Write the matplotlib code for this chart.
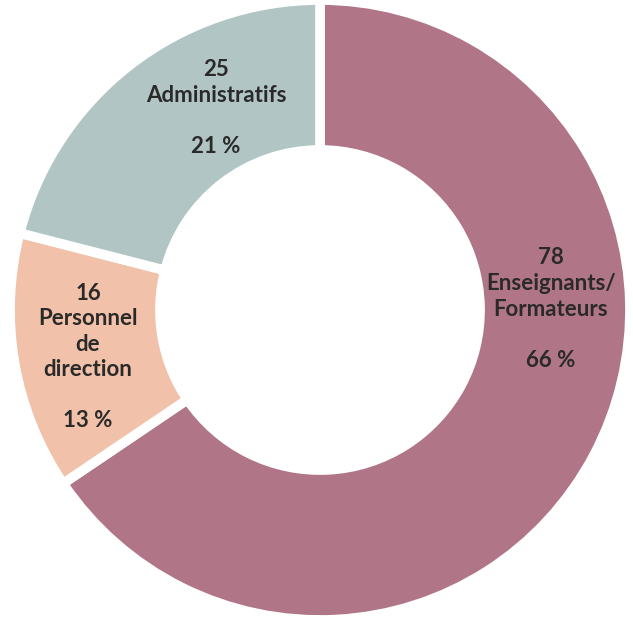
import matplotlib.pyplot as plt

# effectifs par catégorie (sens horaire depuis midi)
categories = ["Enseignants/\nFormateurs", "Personnel\nde\ndirection", "Administratifs"]
effectifs = [78, 16, 25]
pourcentages = ["66 %", "13 %", "21 %"]
couleurs = ["#b07586", "#f1c1a9", "#b1c5c4"]

# positions des étiquettes (en pixels, origine en bas à gauche)
label_pos = [(551, 619 - 309), (88, 619 - 357), (216, 619 - 108)]

fig = plt.figure(figsize=(6.33, 6.19), dpi=100)
ax = fig.add_axes([0, 0, 1, 1])

center = (320, 619 - 310)
radius = 310
ax.pie(effectifs, colors=couleurs, startangle=90, counterclock=False,
       center=center, radius=radius,
       wedgeprops=dict(width=150, edgecolor="white", linewidth=7))

for cat, n, pct, (x, y) in zip(categories, effectifs, pourcentages, label_pos):
    ax.text(x, y, f"{n}\n{cat}\n\n{pct}", ha="center", va="center",
            fontsize=16, fontweight="bold", color="#2a2a2a",
            family=["Lato", "DejaVu Sans"], linespacing=1.27)

ax.set_xlim(0, 633)
ax.set_ylim(0, 619)
ax.set_aspect("equal")
ax.axis("off")

fig.savefig("out.png", dpi=100, facecolor="white")
